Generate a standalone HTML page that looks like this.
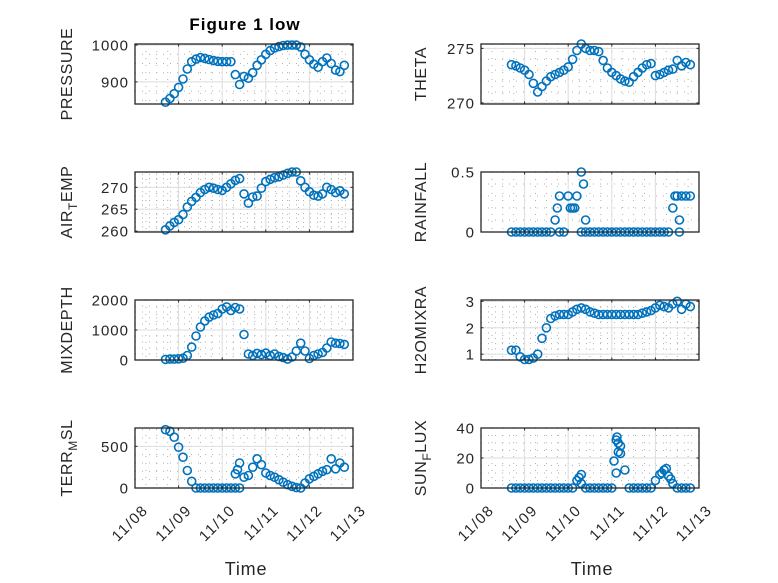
<!DOCTYPE html>
<html><head><meta charset="utf-8"><style>
html,body{margin:0;padding:0;background:#fff;}
svg{display:block;font-family:"Liberation Sans",sans-serif;}
</style></head><body>
<svg id="fig" width="778" height="583" viewBox="0 0 778 583" xmlns="http://www.w3.org/2000/svg">
<text x="245" y="30" text-anchor="middle" font-size="17" letter-spacing="1" font-weight="bold" fill="#000">Figure 1 low</text>
</svg>
<script>
// shared sample times (days of November)
const times = [8.7,8.8,8.9,9.0,9.1,9.2,9.3,9.4,9.5,9.6,9.7,9.8,9.9,10.0,10.1,10.2,10.3,10.4,10.5,10.6,10.7,10.8,10.9,11.0,11.1,11.2,11.3,11.4,11.5,11.6,11.7,11.8,11.9,12.0,12.1,12.2,12.3,12.4,12.5,12.6,12.7,12.8];
const pressure = [845,855,868,885,908,935,955,962,966,964,961,958,956,955,955,955,920,893,915,910,925,945,960,975,985,992,996,999,1000,1000,1000,995,975,960,948,940,955,965,950,932,928,945];
const theta = [273.5,273.4,273.2,273.0,272.6,271.8,271.0,271.5,272.0,272.4,272.6,272.8,273.0,273.3,274.0,274.8,275.4,275.0,274.8,274.8,274.7,273.9,273.2,272.8,272.5,272.2,272.0,271.9,272.4,272.8,273.2,273.5,273.6,272.5,272.6,272.8,273.0,273.1,273.9,273.4,273.7,273.5];
const airTemp = [260.3,261.2,262.0,262.6,263.8,265.5,266.8,267.7,268.8,269.5,270.0,269.8,269.5,269.3,270.0,270.8,271.6,272.0,268.5,266.4,267.8,268.0,269.8,271.3,271.8,272.2,272.4,272.8,273.2,273.5,273.5,271.5,270.0,269.0,268.2,268.0,268.5,270.0,269.5,268.8,269.2,268.5];
const rainfall = [0,0,0,0,0,0,0,0,0,0,0.1,0.3,0,0.3,0.2,0.3,0.5,0.1,0,0,0,0,0,0,0,0,0,0,0,0,0,0,0,0,0,0,0,0.2,0.3,0.3,0.3,0.3];
const rainExtraTimes = [9.75,9.8,10.05,10.15,10.3,10.35,10.4,12.55,12.55,12.45];
const rainExtraValues = [0.2,0,0.2,0.2,0,0.4,0,0.1,0,0.3];
const mixDepth = [20,30,30,40,60,150,430,800,1100,1300,1430,1500,1550,1700,1770,1650,1750,1700,850,200,150,220,180,230,150,200,120,80,30,100,300,560,300,50,150,200,250,400,600,560,550,520];
const h2o = [1.15,1.15,0.9,0.8,0.8,0.85,1.0,1.6,2.0,2.35,2.45,2.5,2.5,2.5,2.6,2.7,2.75,2.7,2.6,2.55,2.5,2.5,2.5,2.5,2.5,2.5,2.5,2.5,2.5,2.5,2.55,2.6,2.65,2.75,2.85,2.8,2.75,2.9,3.0,2.7,2.9,2.8];
const terrMsl = [700,680,610,490,370,210,80,0,0,0,0,0,0,0,0,0,0,0,130,150,250,350,280,180,150,130,100,70,40,20,5,0,60,110,140,170,200,220,350,230,300,250];
const terrExtraTimes = [10.3,10.4,10.35];
const terrExtraValues = [170,300,220];
const sunFlux = [0,0,0,0,0,0,0,0,0,0,0,0,0,0,0,5,9,0,0,0,0,0,0,0,10,28,12,0,0,0,0,0,0,5,9,12,8,3,0,0,0,0];
const sunExtraTimes = [10.25,10.3,11.05,11.1,11.12,11.15,11.15,11.2,12.15,12.25,12.35];
const sunExtraValues = [7,3,18,32,34,30,24,23,10,13,6];
const dayTicks = [8,9,10,11,12,13];
const dayLabels = ['11/08','11/09','11/10','11/11','11/12','11/13'];

const NS = 'http://www.w3.org/2000/svg';
const svg = document.getElementById('fig');
const BLUE = '#0072BD';
function mk(tag, attrs, parent){const e=document.createElementNS(NS,tag);for(const k in attrs)e.setAttribute(k,attrs[k]);(parent||svg).appendChild(e);return e;}

const panels = [
 {name:'pressure',col:0,row:0,ylim:[840,1003],ticks:[900,1000],major:[900,1000],minor:25,label:['PRESSURE'],vals:pressure},
 {name:'theta',col:1,row:0,ylim:[269.9,275.4],ticks:[270,275],major:[270,275],minor:1,label:['THETA'],vals:theta},
 {name:'air-temp',col:0,row:1,ylim:[259.8,273.5],ticks:[260,265,270],major:[260,265,270],minor:1,label:['AIR','T','EMP'],vals:airTemp},
 {name:'rainfall',col:1,row:1,ylim:[0,0.5],ticks:[0,0.5],major:[0,0.5],minor:0.1,label:['RAINFALL'],vals:rainfall,ex:[rainExtraTimes,rainExtraValues]},
 {name:'mixdepth',col:0,row:2,ylim:[0,2000],ticks:[0,1000,2000],major:[0,1000,2000],minor:200,label:['MIXDEPTH'],vals:mixDepth},
 {name:'h2omixra',col:1,row:2,ylim:[0.78,3.05],ticks:[1,2,3],major:[1,2,3],minor:0.2,label:['H2OMIXRA'],vals:h2o},
 {name:'terr-msl',col:0,row:3,ylim:[0,720],ticks:[0,500],major:[0,500],minor:100,label:['TERR','M','SL'],vals:terrMsl,ex:[terrExtraTimes,terrExtraValues]},
 {name:'sun-flux',col:1,row:3,ylim:[0,40],ticks:[0,20,40],major:[0,20,40],minor:5,label:['SUN','F','LUX'],vals:sunFlux,ex:[sunExtraTimes,sunExtraValues]},
];
const colX=[135,481], W=218, rowY=[44,172,300,428], H=60;

panels.forEach(p=>{
  const L=colX[p.col], T=rowY[p.row];
  const g=mk('g',{});
  
  
  const xs=t=>L+(t-8)/5*W;
  const ys=v=>T+H-(v-p.ylim[0])/(p.ylim[1]-p.ylim[0])*H;
  for(let v=Math.ceil(p.ylim[0]/p.minor)*p.minor; v<=p.ylim[1]+1e-9; v+=p.minor){
    const y=ys(v); mk('line',{x1:L,x2:L+W,y1:y,y2:y,stroke:'#b0b0b0','stroke-width':1,'stroke-dasharray':'1 6'},g);
  }
  for(let d=8;d<13;d+=0.25){const x=xs(d);mk('line',{x1:x,x2:x,y1:T,y2:T+H,stroke:'#b0b0b0','stroke-width':1,'stroke-dasharray':'1 6'},g);}
  dayTicks.forEach(d=>{const x=xs(d);mk('line',{x1:x,x2:x,y1:T,y2:T+H,stroke:'#dedede','stroke-width':1},g);});
  p.major.forEach(v=>{const y=ys(v);mk('line',{x1:L,x2:L+W,y1:y,y2:y,stroke:'#dedede','stroke-width':1},g);});
  const pts=[];
  times.forEach((t,i)=>pts.push([t,p.vals[i]]));
  if(p.ex) p.ex[0].forEach((t,i)=>pts.push([t,p.ex[1][i]]));
  pts.forEach(([t,v])=>{
    const c=mk('circle',{cx:xs(t).toFixed(1),cy:ys(v).toFixed(1),r:4,fill:'none',stroke:BLUE,'stroke-width':1.6},g);
    
    
  });
  mk('rect',{x:L,y:T,width:W,height:H,fill:'none',stroke:'#262626','stroke-width':1.3},g);
  dayTicks.forEach(d=>{const x=xs(d);mk('line',{x1:x,x2:x,y1:T,y2:T+2.5,stroke:'#262626'},g);mk('line',{x1:x,x2:x,y1:T+H,y2:T+H-2.5,stroke:'#262626'},g);});
  p.ticks.forEach(v=>{
    const y=ys(v);
    mk('line',{x1:L,x2:L+2.5,y1:y,y2:y,stroke:'#262626'},g);
    mk('line',{x1:L+W,x2:L+W-2.5,y1:y,y2:y,stroke:'#262626'},g);
    const tx=mk('text',{x:L-6,y:y+5.5,'text-anchor':'end','font-size':15,'letter-spacing':1,fill:'#262626'},g);
    tx.textContent=String(v);
    
    
  });
  const lx = p.col===0 ? 72 : 426;
  const yl=mk('text',{transform:`translate(${lx},${T+H/2}) rotate(-90)`,'text-anchor':'middle','font-size':16,'letter-spacing':0.6,fill:'#262626'},g);
  
  
  if(p.label.length===1){yl.textContent=p.label[0];}
  else{
    const a=mk('tspan',{},yl);a.textContent=p.label[0];
    const b=mk('tspan',{dy:5,'font-size':12},yl);b.textContent=p.label[1];
    const c=mk('tspan',{dy:-5},yl);c.textContent=p.label[2];
  }
  if(p.row===3){
    dayTicks.forEach((d,i)=>{
      const x=xs(d);
      const t=mk('text',{transform:`translate(${x+14},${T+H+23}) rotate(-45)`,'text-anchor':'end','font-size':15,'letter-spacing':1.5,fill:'#262626'},g);
      t.textContent=dayLabels[i];
      
      
    });
    const xt=mk('text',{x:L+W/2+2,y:575,'text-anchor':'middle','font-size':18,'letter-spacing':0.8,fill:'#262626'},g);
    xt.textContent='Time';
    
    
  }
});
</script>
</body></html>
